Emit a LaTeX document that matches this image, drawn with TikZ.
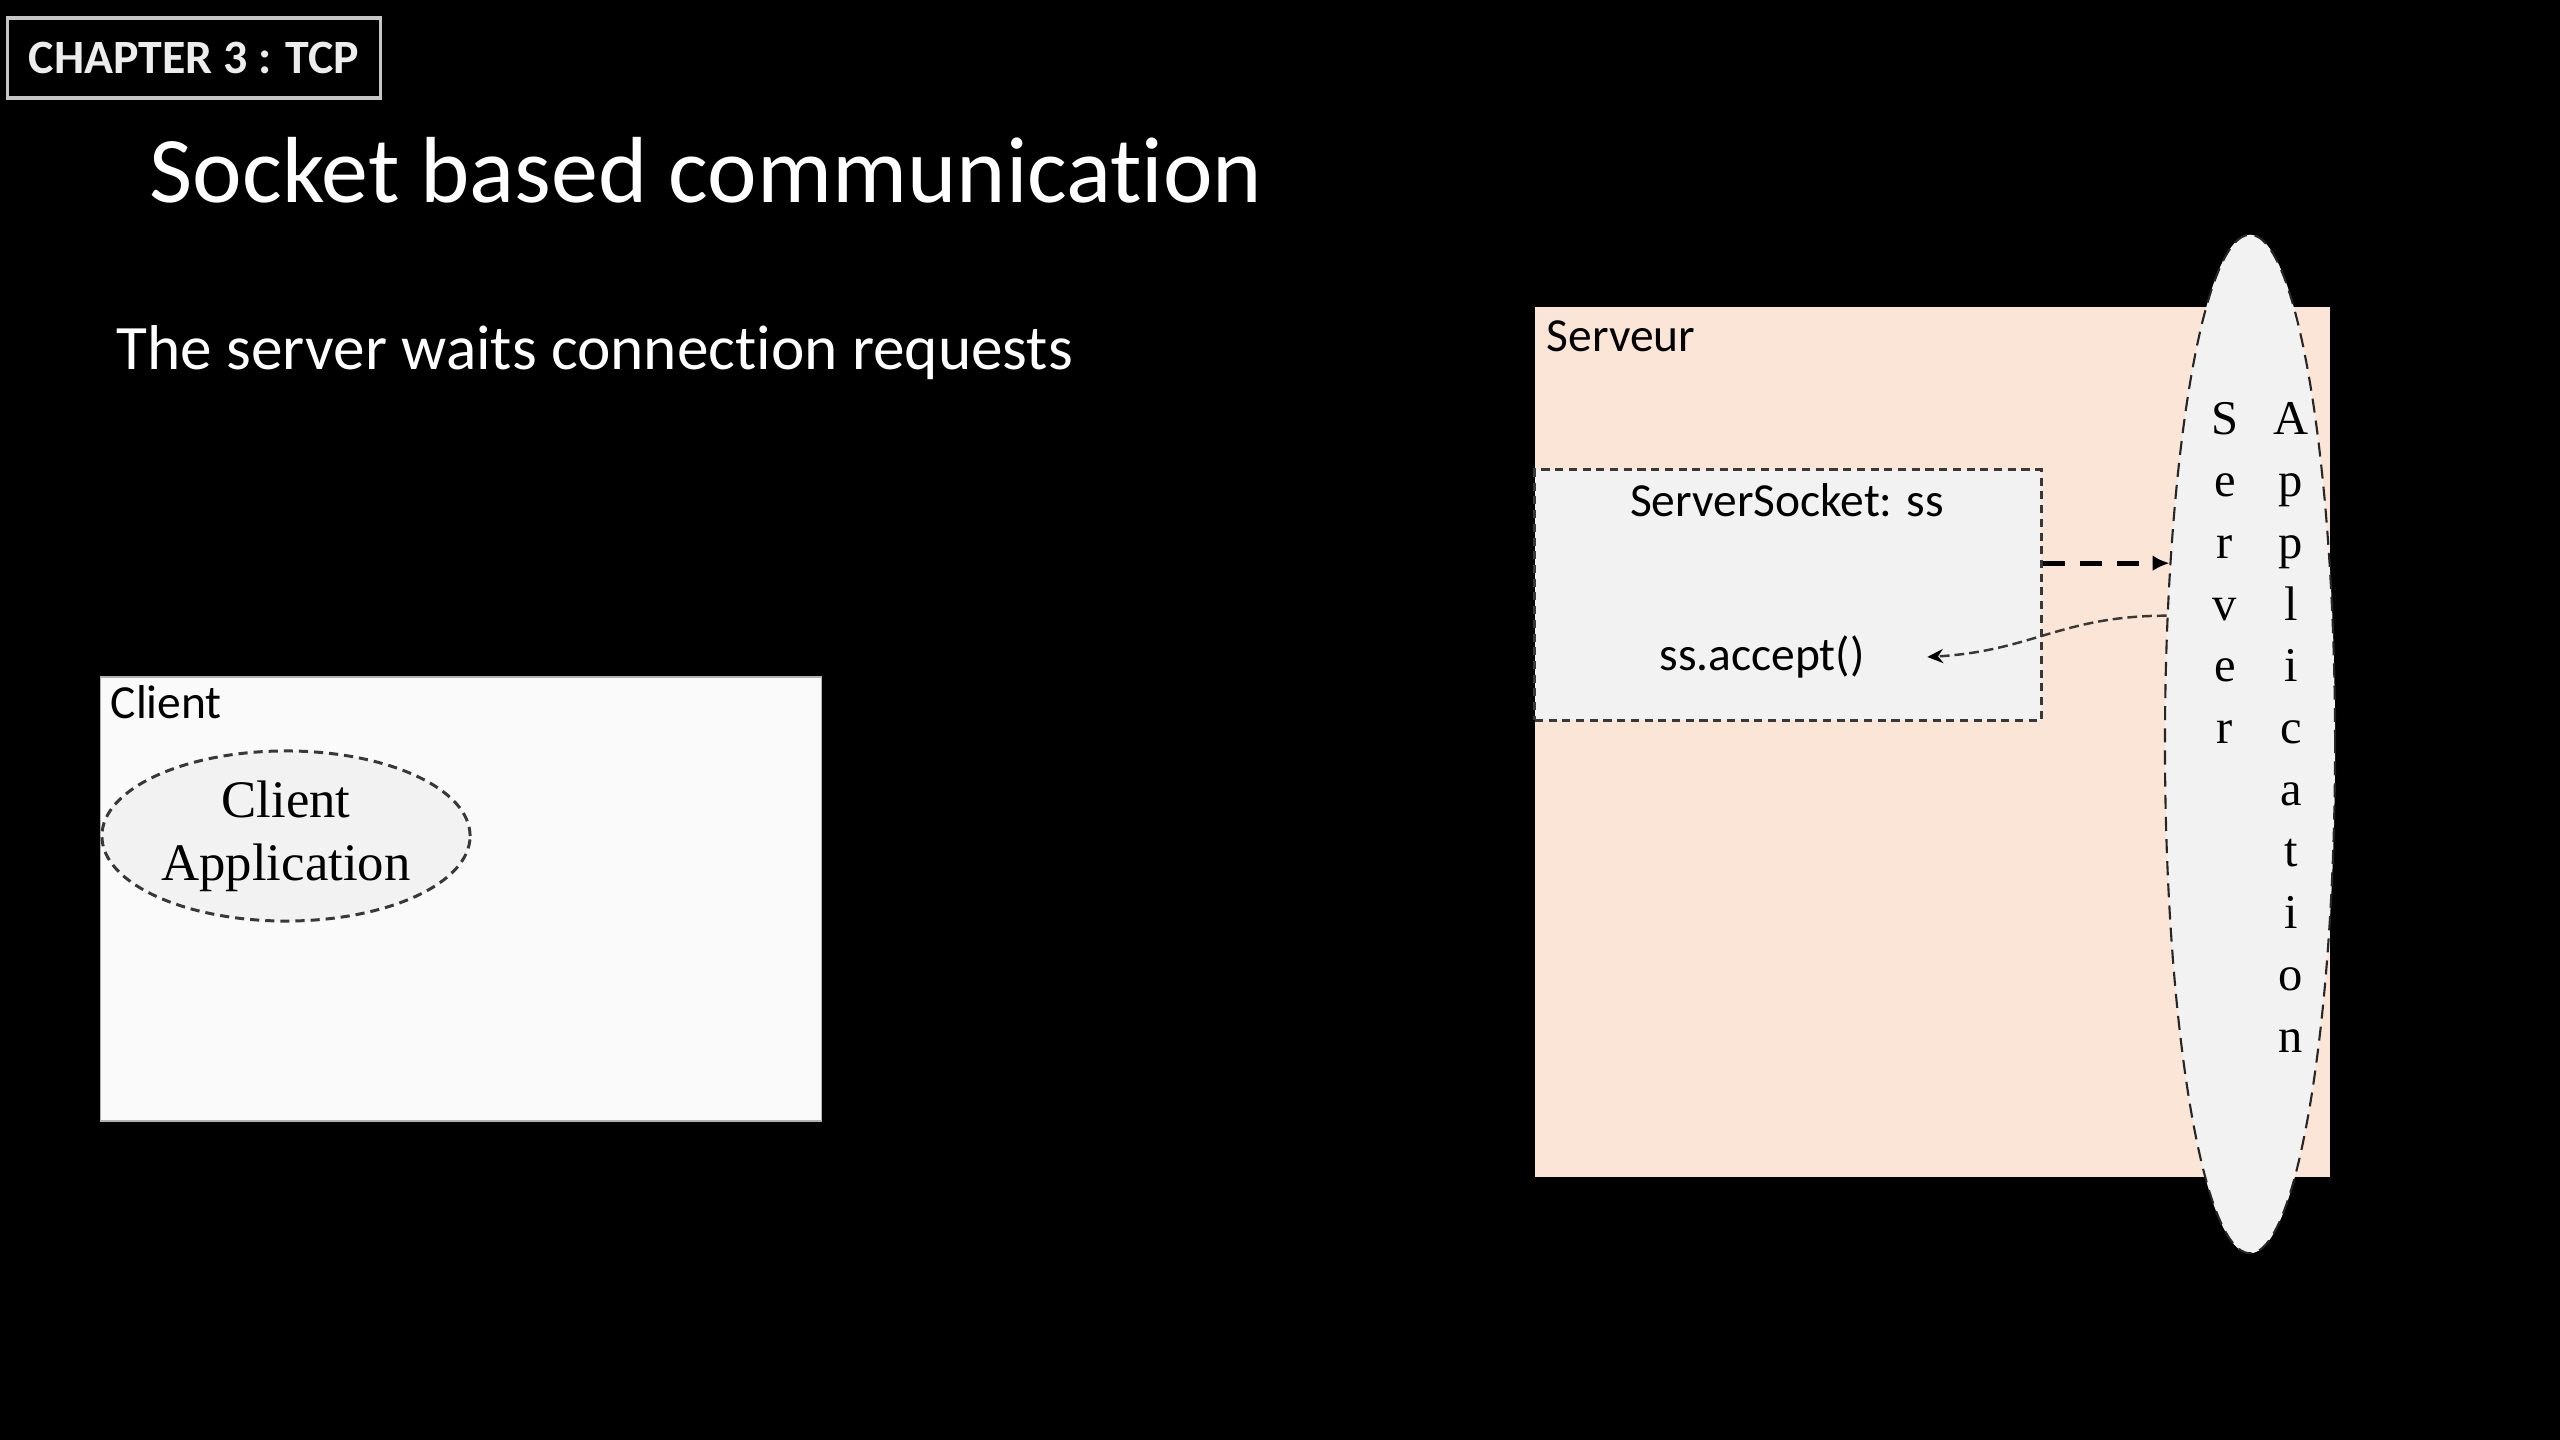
\documentclass[tikz,border=0pt]{standalone}
\usepackage{fontspec}
\setmainfont{Carlito}[Ligatures=NoCommon]
\newfontfamily\tnr{Liberation Serif}
\usetikzlibrary{shapes.geometric,arrows.meta}
\definecolor{peach}{HTML}{FBE5D6}
\definecolor{boxgray}{HTML}{F2F2F2}
\definecolor{clientbg}{HTML}{FAFAFA}
\definecolor{dashgray}{HTML}{383838}
\tikzset{
  px/.style={x=0.01cm,y=-0.01cm},
  lbl/.style={inner sep=0,anchor=base west,font=\fontsize{13.5}{16}\selectfont},
  dashbox/.style={draw=dashgray,line width=0.85pt,dash pattern=on 2.3pt off 1.6pt,inner sep=0},
  ltr/.style={inner sep=0,anchor=base,font=\tnr\fontsize{13.8}{16}\selectfont},
}
\begin{document}
\begin{tikzpicture}[px]
  \fill[black] (0,0) rectangle (2560,1440);
  % heading
  \node[draw=gray!45,line width=0.9pt,minimum width=3.72cm,minimum height=0.8cm,inner sep=0,
        text=white!93!black,font=\bfseries\fontsize{13.6}{16}\selectfont] (chap) at (194,58) {CHAPTER 3 : TCP};
  \node[inner sep=0,anchor=base west,text=white,font=\fontsize{26.7}{30}\selectfont] (title) at (149,203) {Socket based communication};
  \node[inner sep=0,anchor=base west,text=white,font=\fontsize{18}{22}\selectfont] (sub) at (116,370) {The server waits connection requests};
  % client side
  \node[draw=gray!60,line width=0.4pt,fill=clientbg,minimum width=7.2cm,minimum height=4.44cm,inner sep=0] (client) at (461,899) {};
  \node[lbl] (clientlbl) at (110,719) {Client};
  \node[ellipse,dashbox,dash pattern=on 2.6pt off 1.7pt,fill=boxgray,minimum width=3.68cm,minimum height=1.7cm,
        align=center,font=\tnr\fontsize{15}{18}\selectfont] (clientapp) at (286,836) {Client\\Application};
  % server side
  \node[fill=peach,minimum width=7.95cm,minimum height=8.7cm,inner sep=0] (server) at (1932.5,742) {};
  \node[lbl] (serverlbl) at (1546,352) {Serveur};
  \node[dashbox,fill=boxgray,minimum width=5.06cm,minimum height=2.5cm] (socket) at (1788,595) {};
  \node[lbl,anchor=base] (sstxt) at (1787,517) {ServerSocket: ss};
  \node[lbl,anchor=center] (accept) at (1762,657) {ss.accept()};
  \node[ellipse,dashbox,draw=black!85,line width=0.6pt,dash pattern=on 4pt off 2.3pt,fill=boxgray,
        minimum width=1.7cm,minimum height=10.18cm] (srvapp) at (2250,744) {};
  \foreach \ch [count=\i] in {S,e,r,v,e,r}
    \node[ltr] (sv\i) at (2225,{435+61.7*(\i-1)}) {\ch};
  \foreach \ch [count=\i] in {A,p,p,l,i,c,a,t,i,o,n}
    \node[ltr] (ap\i) at (2291,{435+61.7*(\i-1)}) {\ch};
  % connectors
  \draw[line width=1.4pt,dash pattern=on 6.3pt off 4.3pt,-{Latex[length=4.8pt,width=4.5pt]}] (socket.east |- srvapp.114) -- (srvapp.114);
  \draw[dashgray,line width=0.7pt,dash pattern=on 2.8pt off 1.4pt,-{Stealth[length=4.5pt,width=4pt,black]}]
    (srvapp.123) .. controls +(-105,0) and +(105,-6) .. ([xshift=0.62cm]accept.east);
\end{tikzpicture}
\end{document}
